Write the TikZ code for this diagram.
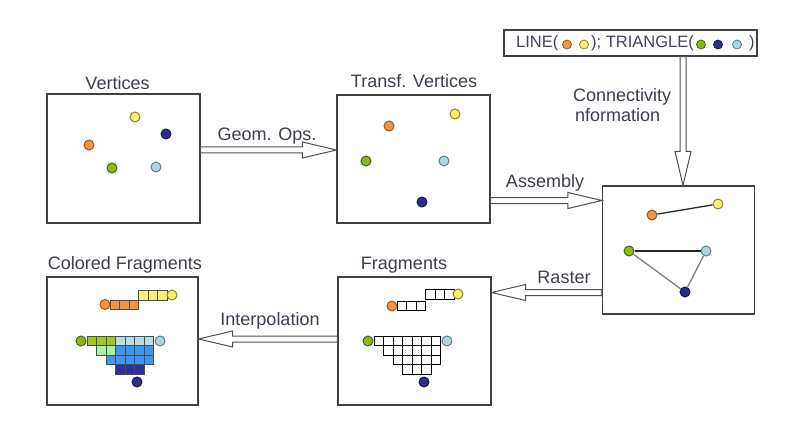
\documentclass[tikz,border=0pt]{standalone}
\usepackage{fontspec}
\setmainfont{Liberation Sans}
\usetikzlibrary{calc}
\definecolor{boxc}{HTML}{404040}
\definecolor{arrowc}{HTML}{505050}
\definecolor{labc}{HTML}{3E3E4E}
\definecolor{topc}{HTML}{46405E}
\definecolor{dorange}{HTML}{F39441}\definecolor{borange}{HTML}{9A5520}
\definecolor{dyellow}{HTML}{F7F06A}\definecolor{byellow}{HTML}{8C8630}
\definecolor{dnavy}{HTML}{2B2C8C}\definecolor{bnavy}{HTML}{1A1A50}
\definecolor{dgreen}{HTML}{8DB81A}\definecolor{bgreen}{HTML}{4A6410}
\definecolor{dlblue}{HTML}{AFD6DC}\definecolor{blblue}{HTML}{5F7F85}
\definecolor{corange}{HTML}{F39441}
\definecolor{cyellow}{HTML}{F8F07A}
\definecolor{cgreen}{HTML}{9CCB1E}
\definecolor{clblue}{HTML}{B6DCE4}
\definecolor{cmint}{HTML}{A6F2A0}
\definecolor{cblue}{HTML}{3D97F2}
\definecolor{cnavy}{HTML}{2E2E9E}
\newcommand\hollowarrow[2]{%
  \draw[hollow] let \p1=(#1), \p2=(#2),
      \n1={atan2(\y2-\y1,\x2-\x1)}, \n2={veclen(\x2-\x1,\y2-\y1)},
      \n3={\n2-34pt} in
      ([shift={(\p1)},rotate=\n1]0pt,3pt)
      -- ([shift={(\p1)},rotate=\n1]\n3,3pt)
      -- ([shift={(\p1)},rotate=\n1]\n3,8pt)
      -- ([shift={(\p1)},rotate=\n1]\n2,0pt)
      -- ([shift={(\p1)},rotate=\n1]\n3,-8pt)
      -- ([shift={(\p1)},rotate=\n1]\n3,-3pt)
      -- ([shift={(\p1)},rotate=\n1]0pt,-3pt) -- cycle;}
\begin{document}
\begin{tikzpicture}[x=1pt,y=-1pt,
  box/.style={draw=boxc,line width=1.2pt,inner sep=0pt,fill=white},
  lab/.style={font=\fontsize{18}{20}\selectfont,text=labc,inner sep=0pt,anchor=base},
  ttext/.style={font=\fontsize{16.5}{18}\selectfont,text=topc,inner sep=0pt,anchor=base west},
  vdot/.style={circle,minimum size=10pt,inner sep=0pt,line width=1pt},
  tdot/.style={circle,minimum size=9pt,inner sep=0pt,line width=0.8pt},
  dor/.style={fill=dorange,draw=borange},
  dye/.style={fill=dyellow,draw=byellow},
  dna/.style={fill=dnavy,draw=bnavy},
  dgr/.style={fill=dgreen,draw=bgreen},
  dlb/.style={fill=dlblue,draw=blblue},
  cell/.style={draw=black!70,line width=0.8pt},
  wcell/.style={draw=black,line width=0.8pt,fill=white},
  hollow/.style={draw=arrowc,line width=1pt,fill=white,line join=miter}
]
\path[use as bounding box,fill=white] (0,0) rectangle (803,433);

% boxes
\node[box,minimum width=153pt,minimum height=129pt] (vbox) at (123.5,158.5) {};
\node[box,minimum width=153pt,minimum height=128pt] (tbox) at (413.5,159) {};
\node[box,minimum width=152pt,minimum height=128pt] (abox) at (678.5,250) {};
\node[box,minimum width=153pt,minimum height=128pt] (fbox) at (414.5,341) {};
\node[box,minimum width=151pt,minimum height=128pt] (cbox) at (122.5,341) {};
\node[box,minimum width=253pt,minimum height=26pt] (topbox) at (630.5,43) {};

% labels
\node[lab] (vlab) at (117.5,90) {Vertices};
\node[lab] (tlab) at (414,88) {Transf. Vertices};
\node[lab] (clab) at (125,269) {Colored Fragments};
\node[lab] (flab) at (404,269) {Fragments};
\node[lab] (glab) at (267,140) {Geom. Ops.};
\node[lab] (aslab) at (545,187) {Assembly};
\node[lab] (rlab) at (564,283) {Raster};
\node[lab] (ilab) at (270,325) {Interpolation};
\node[lab,anchor=base west] (conn1) at (573,101.5) {Connectivity};
\node[lab,anchor=base west] (conn2) at (575,121.5) {nformation};

% top box text
\node[ttext] (tl1) at (516,48) {LINE(};
\node[tdot,dor] (tor) at (567,44.5) {};
\node[tdot,dye] (tye) at (584,44.5) {};
\node[ttext] (tl2) at (591,48) {); TRIANGLE(};
\node[tdot,dgr] (tgr) at (701,44.5) {};
\node[tdot,dna] (tna) at (718,44.5) {};
\node[tdot,dlb] (tlb) at (737,44.5) {};
\node[ttext] (tl3) at (749,48) {)};

% arrows
\hollowarrow{[yshift=8.5pt]vbox.east}{[yshift=9pt]tbox.west}
\hollowarrow{[yshift=-41.5pt]tbox.east}{[yshift=49.5pt]abox.west}
\hollowarrow{[xshift=52.5pt]topbox.south}{[xshift=4.5pt]abox.north}
\hollowarrow{[yshift=-42.5pt]abox.west}{[yshift=48.5pt]fbox.east}
\hollowarrow{[yshift=2pt]fbox.west}{[yshift=2pt]cbox.east}

% vertices
\node[vdot,dor] (vor) at (89,145) {};
\node[vdot,dye] (vye) at (135,117) {};
\node[vdot,dna] (vna) at (166,134) {};
\node[vdot,dgr] (vgr) at (112,168) {};
\node[vdot,dlb] (vlb) at (156,167) {};

% transformed vertices
\node[vdot,dor] (tvor) at (389,126) {};
\node[vdot,dye] (tvye) at (455,114) {};
\node[vdot,dgr] (tvgr) at (366,161) {};
\node[vdot,dlb] (tvlb) at (444,161) {};
\node[vdot,dna] (tvna) at (422,202) {};

% assembly
\node[vdot,dor] (aor) at (652,215) {};
\node[vdot,dye] (aye) at (718,204) {};
\node[vdot,dgr] (agr) at (629,251) {};
\node[vdot,dlb] (alb) at (706,251) {};
\node[vdot,dna] (ana) at (685,292) {};
\draw[line width=1.3pt,black!85] (aor) -- (aye);
\draw[line width=1.3pt,black!85] (agr) -- (alb);
\draw[line width=1.3pt,black!50] (agr) -- (ana);
\draw[line width=1.3pt,black!50] (alb) -- (ana);

% fragments (uncolored)
\foreach \i in {0,1,2} \draw[wcell] (397+\i*9.5,301) rectangle ++(9.5,9.5);
\foreach \i in {0,1,2} \draw[wcell] (425.5+\i*9.5,289.5) rectangle ++(9.5,9.5);
\foreach \c in {0,...,6} \draw[wcell] (374+\c*9.5,336) rectangle ++(9.5,9.5);
\foreach \c in {1,...,6} \draw[wcell] (374+\c*9.5,345.5) rectangle ++(9.5,9.5);
\foreach \c in {2,...,6} \draw[wcell] (374+\c*9.5,355) rectangle ++(9.5,9.5);
\foreach \c in {3,...,5} \draw[wcell] (374+\c*9.5,364.5) rectangle ++(9.5,9.5);
\node[vdot,dor] (for) at (392,306) {};
\node[vdot,dye] (fye) at (458,294) {};
\node[vdot,dgr] (fgr) at (368,341) {};
\node[vdot,dlb] (flb) at (447,341) {};
\node[vdot,dna] (fna) at (424,382) {};

% colored fragments
\foreach \i in {0,1,2} \draw[cell,fill=corange] (110+\i*9.5,300) rectangle ++(9.5,9.5);
\foreach \i in {0,1,2} \draw[cell,fill=cyellow] (138.5+\i*9.5,290.5) rectangle ++(9.5,9.5);
\foreach \c in {0,1,2} \draw[cell,fill=cgreen] (87+\c*9.5,336) rectangle ++(9.5,9.5);
\foreach \c in {3,...,6} \draw[cell,fill=clblue] (87+\c*9.5,336) rectangle ++(9.5,9.5);
\foreach \c in {1,2} \draw[cell,fill=cmint] (87+\c*9.5,345.5) rectangle ++(9.5,9.5);
\foreach \c in {3,...,6} \draw[cell,fill=cblue] (87+\c*9.5,345.5) rectangle ++(9.5,9.5);
\foreach \c in {2,...,6} \draw[cell,fill=cblue] (87+\c*9.5,355) rectangle ++(9.5,9.5);
\foreach \c in {3,...,5} \draw[cell,fill=cnavy] (87+\c*9.5,364.5) rectangle ++(9.5,9.5);
\node[vdot,dor] (cor) at (105,304.5) {};
\node[vdot,dye] (cye) at (172,295) {};
\node[vdot,dgr] (cgr) at (81,341) {};
\node[vdot,dlb] (clb) at (160,341) {};
\node[vdot,dna] (cna) at (137,382) {};
\end{tikzpicture}
\end{document}
